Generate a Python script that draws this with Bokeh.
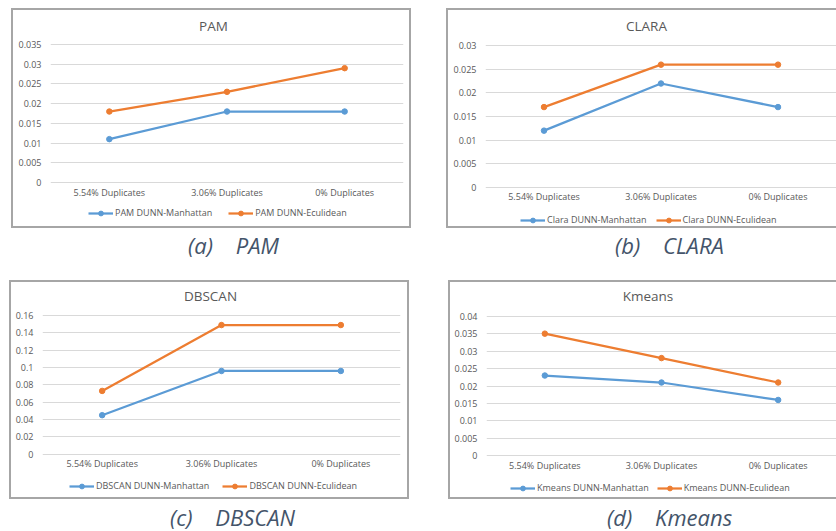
from bokeh.plotting import figure
from bokeh.models import (FactorRange, Range1d, FixedTicker, Legend, LegendItem,
                          Spacer, Div, CustomJSTickFormatter, Label)
from bokeh.layouts import row, column
from bokeh.embed import file_html
from bokeh.resources import INLINE

# ---------------- data ----------------
categories = ["5.54% Duplicates", "3.06% Duplicates", "0% Duplicates"]

pam_manhattan = [0.011, 0.018, 0.018]
pam_euclidean = [0.018, 0.023, 0.029]
clara_manhattan = [0.012, 0.022, 0.017]
clara_euclidean = [0.017, 0.026, 0.026]
dbscan_manhattan = [0.045, 0.096, 0.096]
dbscan_euclidean = [0.073, 0.149, 0.149]
kmeans_manhattan = [0.023, 0.021, 0.016]
kmeans_euclidean = [0.035, 0.028, 0.021]

pam_ticks = [0, 0.005, 0.01, 0.015, 0.02, 0.025, 0.03, 0.035]
pam_tick_labels = ["0", "0.005", "0.01", "0.015", "0.02", "0.025", "0.03", "0.035"]
clara_ticks = [0, 0.005, 0.01, 0.015, 0.02, 0.025, 0.03]
clara_tick_labels = ["0", "0.005", "0.01", "0.015", "0.02", "0.025", "0.03"]
dbscan_ticks = [0, 0.02, 0.04, 0.06, 0.08, 0.1, 0.12, 0.14, 0.16]
dbscan_tick_labels = ["0", "0.02", "0.04", "0.06", "0.08", "0.1", "0.12", "0.14", "0.16"]
kmeans_ticks = [0, 0.005, 0.01, 0.015, 0.02, 0.025, 0.03, 0.035, 0.04]
kmeans_tick_labels = ["0", "0.005", "0.01", "0.015", "0.02", "0.025", "0.03", "0.035", "0.04"]

titles = ["PAM", "CLARA", "DBSCAN", "Kmeans"]
legend_a = ["PAM DUNN-Manhattan", "PAM DUNN-Eculidean"]
legend_b = ["Clara DUNN-Manhattan", "Clara DUNN-Eculidean"]
legend_c = ["DBSCAN DUNN-Manhattan", "DBSCAN DUNN-Eculidean"]
legend_d = ["Kmeans DUNN-Manhattan", "Kmeans DUNN-Eculidean"]
captions = ["(a)\u00a0\u00a0\u00a0\u00a0PAM", "(b)\u00a0\u00a0\u00a0\u00a0CLARA",
            "(c)\u00a0\u00a0\u00a0\u00a0DBSCAN", "(d)\u00a0\u00a0\u00a0\u00a0Kmeans"]

BLUE = "#5B9BD5"
ORANGE = "#ED7D31"
TXT = "#595959"
GRID = "#D9D9D9"
FONT = "Open Sans"
BORDER = "#A6A6A6"


def panel(title, manh, eucl, ticks, tick_labels, labels, width, height,
          left, right, zt, z0, title_y, title_dx, legend_x, legend_y, spacing,
          full_border=True):
    """zt / z0: pixel rows (from canvas top) of the top tick and of zero."""
    ymax = ticks[-1]
    top, bottom = 2, 2
    ppu = (z0 - zt) / ymax                      # pixels per data unit
    y_start = -((height - bottom) - z0) / ppu   # frame reaches down to the border
    y_end = ymax + (zt - top) / ppu             # and up to the border
    p = figure(x_range=FactorRange(*categories, range_padding=0),
               y_range=Range1d(y_start, y_end),
               width=width, height=height, output_backend="svg",
               toolbar_location=None,
               min_border=0, min_border_left=left, min_border_right=right,
               min_border_top=top, min_border_bottom=bottom)
    p.border_fill_color = None
    p.background_fill_color = None
    p.outline_line_color = None
    if full_border:
        shadow = f"inset 0 0 0 2px {BORDER}"
    else:
        shadow = f"inset 2px 2px 0 {BORDER}, inset 0 -2px 0 {BORDER}"
    p.styles = {"box-shadow": shadow, "background": "white"}

    p.xgrid.grid_line_color = None
    p.ygrid.grid_line_color = GRID
    p.ygrid.grid_line_width = 1
    p.yaxis.ticker = FixedTicker(ticks=ticks)
    p.ygrid.ticker = FixedTicker(ticks=ticks)
    p.yaxis.formatter = CustomJSTickFormatter(
        args=dict(tvals=ticks, tlabels=tick_labels),
        code="const i = tvals.findIndex(t => Math.abs(t - tick) < 1e-9); return i >= 0 ? tlabels[i] : '';")
    for ax in (p.xaxis[0], p.yaxis[0]):
        ax.axis_line_color = None
        ax.major_tick_line_color = None
        ax.minor_tick_line_color = None
        ax.major_tick_out = 0
        ax.major_tick_in = 0
        ax.minor_tick_out = 0
        ax.major_label_text_font = FONT
        ax.major_label_text_font_size = "9px"
        ax.major_label_text_color = TXT
    p.yaxis.major_label_standoff = 9
    p.xaxis.major_label_standoff = 3
    p.xaxis.fixed_location = 0

    p.add_layout(Label(x=1.5, y=ymax + (zt - title_y) / ppu, text=title,
                       x_offset=title_dx, text_align="center",
                       text_baseline="middle", text_font=FONT,
                       text_font_size="13.5px", text_color=TXT))

    l1 = p.line(categories, manh, line_color=BLUE, line_width=2.25)
    s1 = p.scatter(categories, manh, size=5.5, color=BLUE)
    l2 = p.line(categories, eucl, line_color=ORANGE, line_width=2.25)
    s2 = p.scatter(categories, eucl, size=5.5, color=ORANGE)

    leg = Legend(items=[LegendItem(label=labels[0], renderers=[l1, s1]),
                        LegendItem(label=labels[1], renderers=[l2, s2])],
                 location=(legend_x, legend_y), orientation="horizontal",
                 padding=0, margin=0, spacing=spacing,
                 glyph_width=25, glyph_height=12, label_height=12,
                 label_standoff=2, label_text_font=FONT,
                 label_text_font_size="9px", label_text_color=TXT,
                 border_line_color=None, background_fill_alpha=0)
    p.add_layout(leg)
    return p


fa = panel(titles[0], pam_manhattan, pam_euclidean, pam_ticks, pam_tick_labels,
           legend_a, 400, 220, 39, 8, 36, 174, 17, -13.5, 38, 7, 16)
fb = panel(titles[1], clara_manhattan, clara_euclidean, clara_ticks, clara_tick_labels,
           legend_b, 390, 220, 39, 0, 37.3, 178.7, 17, -14.5, 35, 0, 9, full_border=False)
fc = panel(titles[2], dbscan_manhattan, dbscan_euclidean, dbscan_ticks, dbscan_tick_labels,
           legend_c, 400, 219, 33, 9, 35, 173.7, 15, -11, 27, 5, 13)
fd = panel(titles[3], kmeans_manhattan, kmeans_euclidean, kmeans_ticks, kmeans_tick_labels,
           legend_d, 388, 219, 38, 0, 35.7, 175.3, 15, -13.5, 24, 3, 8, full_border=False)


def caption(text, width, height, top):
    return Div(text=f'<div style="font-family:\'Open Sans\';font-style:italic;'
                    f'font-size:22px;line-height:24px;color:#44546A;white-space:nowrap;'
                    f'margin-top:{top}px">{text}</div>',
               width=width, height=height, margin=0)


row0 = Spacer(width=836, height=8)
row1 = row(Spacer(width=11, height=220), fa, Spacer(width=35, height=220), fb, spacing=0)
row2 = row(Spacer(width=188, height=52), caption(captions[0], 427, 52, 5),
           caption(captions[1], 221, 52, 5), spacing=0)
row3 = row(Spacer(width=9, height=219), fc, Spacer(width=39, height=219), fd, spacing=0)
row4 = row(Spacer(width=170, height=32), caption(captions[2], 437, 32, 6),
           caption(captions[3], 229, 32, 6), spacing=0)

layout = column(row0, row1, row2, row3, row4, spacing=0)

open("out.html", "w").write(file_html(layout, INLINE))
